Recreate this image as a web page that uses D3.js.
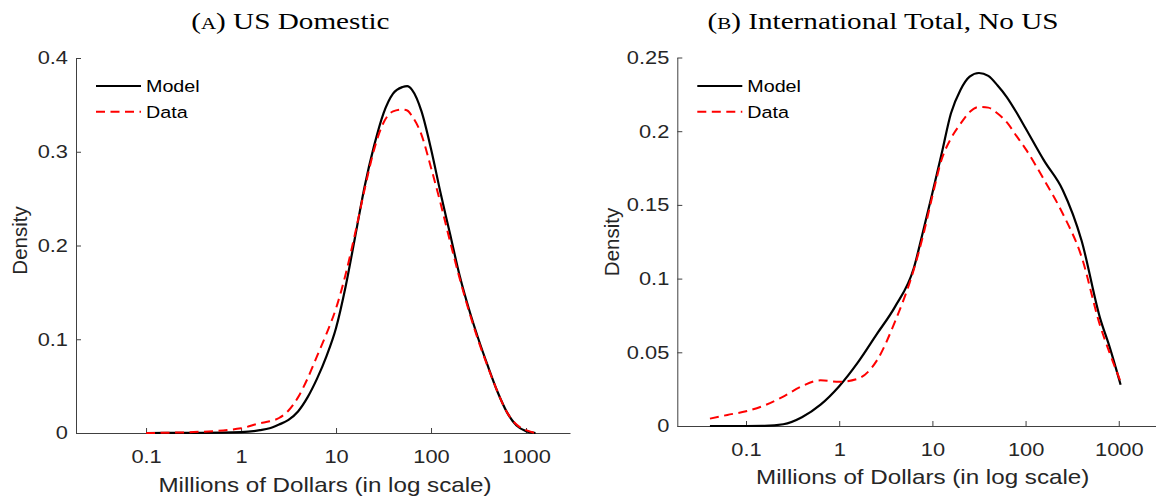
<!DOCTYPE html>
<html>
<head>
<meta charset="utf-8">
<script src="https://cdn.jsdelivr.net/npm/d3@7"></script>
<style>
  html, body { margin: 0; padding: 0; background: #fff; }
  svg { display: block; }
</style>
</head>
<body>
<svg id="chart" width="1156" height="499"></svg>
<script>
// ---- values: density of gross revenues, millions of dollars on a log axis ----
// (A) US Domestic
const usX     = [0.1, 0.316, 1, 1.58, 2, 2.51, 3.16, 3.98, 5.01, 6.31, 7.94, 10, 12.6, 15.8, 20, 25.1, 31.6, 39.8, 50.1, 56.2, 63.1, 79.4, 100, 126, 158, 200, 251, 316, 398, 501, 631, 794, 1000, 1259];
const usModel = [0, 0.0002, 0.001, 0.003, 0.005, 0.009, 0.014, 0.023, 0.038, 0.058, 0.082, 0.112, 0.156, 0.208, 0.263, 0.306, 0.341, 0.362, 0.369, 0.370, 0.366, 0.343, 0.303, 0.256, 0.213, 0.168, 0.132, 0.1, 0.071, 0.044, 0.022, 0.008, 0.002, 0];
const usData  = [0, 0.001, 0.005, 0.0105, 0.0125, 0.016, 0.024, 0.038, 0.058, 0.082, 0.106, 0.133, 0.169, 0.212, 0.26, 0.302, 0.331, 0.343, 0.345, 0.344, 0.338, 0.318, 0.283, 0.245, 0.205, 0.165, 0.13, 0.098, 0.07, 0.044, 0.022, 0.009, 0.003, 0];

// (B) International Total, No US
const intlX     = [0.041, 0.063, 0.1, 0.158, 0.251, 0.398, 0.631, 1, 1.58, 2.51, 3.98, 6.31, 7.94, 10, 12.6, 15.8, 20, 25.1, 31.6, 39.8, 50.1, 63.1, 79.4, 100, 158, 251, 398, 631, 794, 1047];
const intlModel = [0, 0, 0, 0.0001, 0.0012, 0.006, 0.0145, 0.027, 0.043, 0.062, 0.081, 0.107, 0.132, 0.158, 0.185, 0.212, 0.228, 0.237, 0.2395, 0.2375, 0.231, 0.223, 0.213, 0.202, 0.18, 0.16, 0.126, 0.073, 0.054, 0.028];
const intlData  = [0.005, 0.0075, 0.01, 0.014, 0.02, 0.027, 0.031, 0.03, 0.032, 0.044, 0.071, 0.106, 0.129, 0.156, 0.181, 0.195, 0.205, 0.213, 0.2165, 0.216, 0.212, 0.206, 0.197, 0.188, 0.167, 0.144, 0.115, 0.068, 0.05, 0.03];

const xTicks      = [0.1, 1, 10, 100, 1000];
const xTickLabels = ["0.1", "1", "10", "100", "1000"];
const usYTicks    = [0, 0.1, 0.2, 0.3, 0.4];
const intlYTicks  = [0, 0.05, 0.1, 0.15, 0.2, 0.25];
const seriesNames = ["Model", "Data"];
const panelTags   = ["A", "B"];
const panelNames  = ["US Domestic", "International Total, No US"];
const xLabel = "Millions of Dollars (in log scale)";
const yLabel = "Density";

// ---- layout & style ----
const SX = 1.18;                 // horizontal text stretch
const SX_TITLE = 1.27;
const sans = "'Liberation Sans', Arial, Helvetica, sans-serif";
const serif = "'Liberation Serif', 'Times New Roman', serif";
const ink = "#262626";
const xDomain = [0.0183, 2904];

const panels = [
  { xs: usX, model: usModel, data: usData, yTicks: usYTicks, yMax: 0.4,
    left: 76, right: 570, top: 58, bottom: 433,
    titleX: 290.4, xLabelX: 325, xLabelY: 491.7, yLabelX: 26.7, yLabelY: 240.5 },
  { xs: intlX, model: intlModel, data: intlData, yTicks: intlYTicks, yMax: 0.25,
    left: 677.3, right: 1161.9, top: 57.5, bottom: 426,
    titleX: 883, xLabelX: 922.7, xLabelY: 483.5, yLabelX: 619, yLabelY: 242 }
];

const svg = d3.select("#chart");
svg.append("rect").attr("width", 1156).attr("height", 499).attr("fill", "#fff");

panels.forEach((p, pi) => {
  const x = d3.scaleLog().domain(xDomain).range([p.left, p.right]);
  const y = d3.scaleLinear().domain([0, p.yMax]).range([p.bottom, p.top]);
  const g = svg.append("g");

  // axes (inward ticks, no box)
  const xAxis = d3.axisBottom(x)
    .tickValues(xTicks)
    .tickFormat((d, i) => xTickLabels[i])
    .tickSize(-5).tickSizeOuter(0).tickPadding(17.2);
  const yAxis = d3.axisLeft(y)
    .tickValues(p.yTicks)
    .tickFormat(d3.format("~g"))
    .tickSize(-5).tickSizeOuter(0).tickPadding(6.8);

  const gx = g.append("g").attr("transform", `translate(0,${p.bottom})`).call(xAxis);
  const gy = g.append("g").attr("transform", `translate(${p.left},0)`).call(yAxis);
  [gx, gy].forEach(a => {
    a.select(".domain").attr("stroke", "#404040").attr("stroke-width", 1);
    a.selectAll(".tick line").attr("stroke", "#404040").attr("stroke-width", 1);
    a.selectAll(".tick text")
      .attr("fill", ink).attr("font-family", sans).attr("font-size", 18.5)
      .attr("transform", `scale(${SX},1)`);
    a.attr("font-family", null).attr("font-size", null);
  });

  // curves
  const line = d3.line()
    .x((d, i) => x(p.xs[i]))
    .y(d => y(d))
    .curve(d3.curveMonotoneX);

  g.append("path").datum(p.model)
    .attr("d", line).attr("fill", "none")
    .attr("stroke", "#000").attr("stroke-width", 2.2)
    .attr("stroke-linejoin", "round");
  g.append("path").datum(p.data)
    .attr("d", line).attr("fill", "none")
    .attr("stroke", "#ff0000").attr("stroke-width", 2)
    .attr("stroke-dasharray", "9,5.5");

  // legend
  const lx = p.left + 20;
  const legendRows = [
    { name: seriesNames[0], y: 86, stroke: "#000", dash: null, w: 2.2 },
    { name: seriesNames[1], y: 111.7, stroke: "#ff0000", dash: "9,5.5", w: 2 }
  ];
  legendRows.forEach(r => {
    g.append("line")
      .attr("x1", lx).attr("x2", lx + 45).attr("y1", r.y).attr("y2", r.y)
      .attr("stroke", r.stroke).attr("stroke-width", r.w)
      .attr("stroke-dasharray", r.dash);
    g.append("text")
      .attr("transform", `translate(${lx + 50},${r.y + 6}) scale(${SX},1)`)
      .attr("font-family", sans).attr("font-size", 16.7).attr("fill", "#000")
      .text(r.name);
  });

  // axis labels
  g.append("text")
    .attr("transform", `translate(${p.xLabelX},${p.xLabelY}) scale(${SX},1)`)
    .attr("text-anchor", "middle")
    .attr("font-family", sans).attr("font-size", 20.5).attr("fill", ink)
    .text(xLabel);
  g.append("text")
    .attr("transform", `translate(${p.yLabelX},${p.yLabelY}) rotate(-90)`)
    .attr("text-anchor", "middle")
    .attr("font-family", sans).attr("font-size", 20.5).attr("fill", ink)
    .text(yLabel);

  // panel title with small-caps tag
  const t = g.append("text")
    .attr("transform", `translate(${p.titleX},29.3) scale(${SX_TITLE},1)`)
    .attr("text-anchor", "middle")
    .attr("font-family", serif).attr("font-size", 23).attr("fill", "#000");
  t.append("tspan").text("(");
  t.append("tspan").attr("font-size", 16.5).text(panelTags[pi]);
  t.append("tspan").text(") " + panelNames[pi]);
});
</script>
</body>
</html>
